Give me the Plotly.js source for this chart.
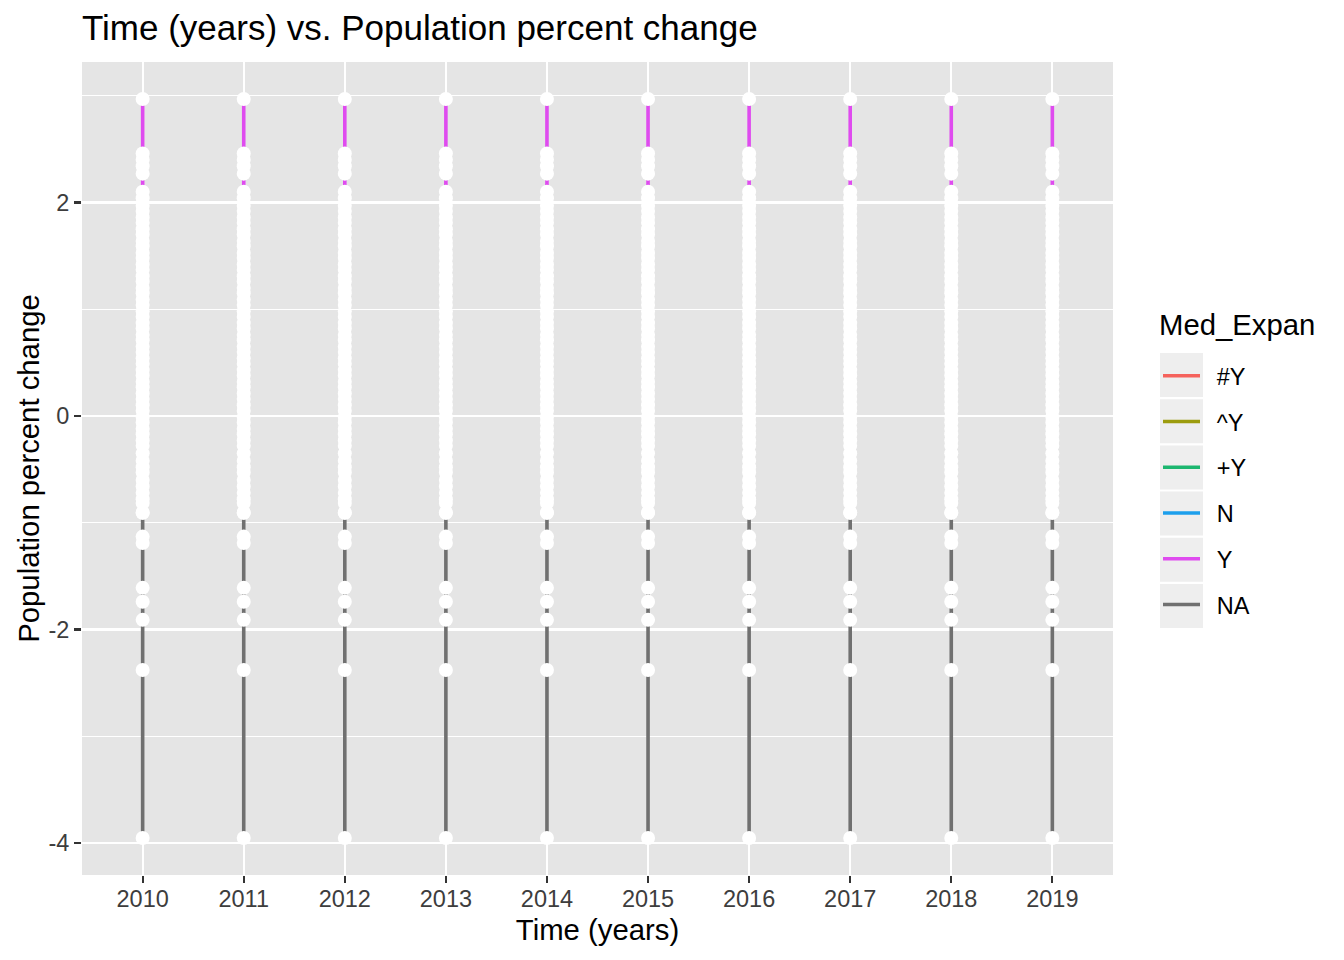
<!DOCTYPE html>
<html>
<head>
<meta charset="utf-8">
<script src="https://cdn.plot.ly/plotly-3.0.1.min.js"></script>
<style>
  html, body { margin: 0; padding: 0; background: #ffffff; }
  #chart { width: 1344px; height: 960px; }
</style>
</head>
<body>
<div id="chart"></div>
<script>
// years on the discrete x axis
const years = ['2010', '2011', '2012', '2013', '2014', '2015', '2016', '2017', '2018', '2019'];

// Med_Expan levels, in legend order, with the hue colours seen in the picture
const levels = ['#Y', '^Y', '+Y', 'N', 'Y', 'NA'];
const levelColors = ['#F5625C', '#9C9C0E', '#1CB66F', '#1C9FEC', '#DF4BEF', '#707070'];

// y ticks (ggplot prints a plain hyphen)
const yTickVals = [-4, -2, 0, 2];
const yTickText = ['-4', '-2', '0', '2'];

// population percent change by level (same spread in every year)
const pctHashY = [1.53, 1.26, 0.98, 0.71, 0.43, 0.16, -0.12];
const pctCaretY = [1.42, 1.15, 0.87, 0.60, 0.32, 0.05, -0.23];
const pctPlusY = [1.97, 1.70, 1.37, 1.09, 0.82, 0.54, 0.27, -0.01, -0.28];
const pctN = [1.86, 1.59, 1.31, 1.04, 0.76, 0.49, 0.21, -0.06, -0.35, -0.42, -0.48, -0.53,
              -0.60, -0.66, -0.72, -0.78, -0.815, -0.906];
const pctY = [2.97, 2.46, 2.40, 2.34, 2.27, 2.10, 2.04, 1.92, 1.81, 1.75, 1.64, 1.48,
              1.20, 0.93, 0.65, 0.38, 0.10, -0.17];
const pctNA = [-0.906, -1.13, -1.19, -1.61, -1.74, -1.91, -2.38, -3.953];

const levelValues = [pctHashY, pctCaretY, pctPlusY, pctN, pctY, pctNA];

const traces = [];

// one vertical line per level and year (ggplot geom_line on a discrete x)
levels.forEach((lvl, i) => {
    const sorted = levelValues[i].slice().sort((a, b) => b - a);
    const xs = [];
    const ys = [];
    years.forEach(yr => {
        sorted.forEach(v => { xs.push(yr); ys.push(v); });
        xs.push(yr);
        ys.push(null);
    });
    traces.push({
        x: xs,
        y: ys,
        type: 'scatter',
        mode: 'lines',
        name: '\u2002' + lvl,
        legendgroup: lvl,
        connectgaps: false,
        line: { color: levelColors[i], width: 3.6 },
        hoverinfo: 'skip'
    });
});

// white points on top
const px = [];
const py = [];
years.forEach(yr => {
    levelValues.forEach(vals => {
        vals.forEach(v => { px.push(yr); py.push(v); });
    });
});
traces.push({
    x: px,
    y: py,
    type: 'scatter',
    mode: 'markers',
    showlegend: false,
    marker: { color: '#ffffff', size: 14, line: { width: 0 } },
    hoverinfo: 'skip'
});

// grey legend key boxes, like ggplot's theme_grey
const plotTop = 62, plotBottom = 875, plotLeft = 82, plotRight = 1113;
const toPx = px0 => (px0 - plotLeft) / (plotRight - plotLeft);
const toPy = py0 => (plotBottom - py0) / (plotBottom - plotTop);
const keyShapes = levels.map((lvl, i) => {
    const top = 353 + i * 46.2;
    return {
        type: 'rect',
        xref: 'paper', yref: 'paper',
        x0: toPx(1160), x1: toPx(1203),
        y0: toPy(top), y1: toPy(top + 44),
        fillcolor: '#EEEEEE',
        line: { width: 0 },
        layer: 'below'
    };
});

const fontFam = '"Liberation Sans", Arial, sans-serif';

const layout = {
    width: 1344,
    height: 960,
    paper_bgcolor: '#ffffff',
    plot_bgcolor: '#E5E5E5',
    font: { family: fontFam, color: '#000000' },
    margin: { l: plotLeft, r: 1344 - plotRight, t: plotTop, b: 960 - plotBottom, pad: 0 },
    title: {
        text: 'Time (years) vs. Population percent change',
        font: { size: 35, color: '#000000', family: fontFam },
        xref: 'paper', x: 0, xanchor: 'left',
        yref: 'container', y: 1 - 28 / 960, yanchor: 'middle'
    },
    xaxis: {
        type: 'category',
        categoryorder: 'array',
        categoryarray: years,
        range: [-0.6, 9.6],
        showgrid: true,
        gridcolor: '#ffffff',
        gridwidth: 2.2,
        zeroline: false,
        ticks: 'outside',
        ticklen: 7,
        tickwidth: 2.2,
        tickcolor: '#333333',
        ticklabelstandoff: -4,
        tickfont: { size: 23.5, color: '#3D3D3D', family: fontFam },
        title: {
            text: 'Time (years)',
            font: { size: 29.3, color: '#000000', family: fontFam },
            standoff: 8
        },
        showline: false,
        fixedrange: true
    },
    yaxis: {
        range: [-4.30, 3.316],
        tickmode: 'array',
        tickvals: yTickVals,
        ticktext: yTickText,
        showgrid: true,
        gridcolor: '#ffffff',
        gridwidth: 2.2,
        minor: { tickmode: 'linear', dtick: 1, tick0: 0, showgrid: true, gridcolor: '#ffffff', gridwidth: 1.1 },
        zeroline: false,
        ticks: 'outside',
        ticklen: 7,
        tickwidth: 2.2,
        tickcolor: '#333333',
        tickfont: { size: 23.5, color: '#3D3D3D', family: fontFam },
        title: {
            text: 'Population percent change',
            font: { size: 29.3, color: '#000000', family: fontFam },
            standoff: 0
        },
        showline: false,
        fixedrange: true
    },
    showlegend: true,
    legend: {
        x: toPx(1158),
        xanchor: 'left',
        y: toPy(354),
        yanchor: 'top',
        bgcolor: 'rgba(0,0,0,0)',
        borderwidth: 0,
        font: { size: 23.5, color: '#000000', family: fontFam },
        itemwidth: 37,
        tracegroupgap: 12.2,
        traceorder: 'grouped'
    },
    annotations: [{
        text: 'Med_Expan',
        xref: 'paper', yref: 'paper',
        x: toPx(1157), y: toPy(325),
        xanchor: 'left', yanchor: 'middle',
        showarrow: false,
        font: { size: 29.3, color: '#000000', family: fontFam }
    }],
    shapes: keyShapes,
    hovermode: false
};

Plotly.newPlot('chart', traces, layout, { displayModeBar: false, staticPlot: true });
</script>
</body>
</html>
